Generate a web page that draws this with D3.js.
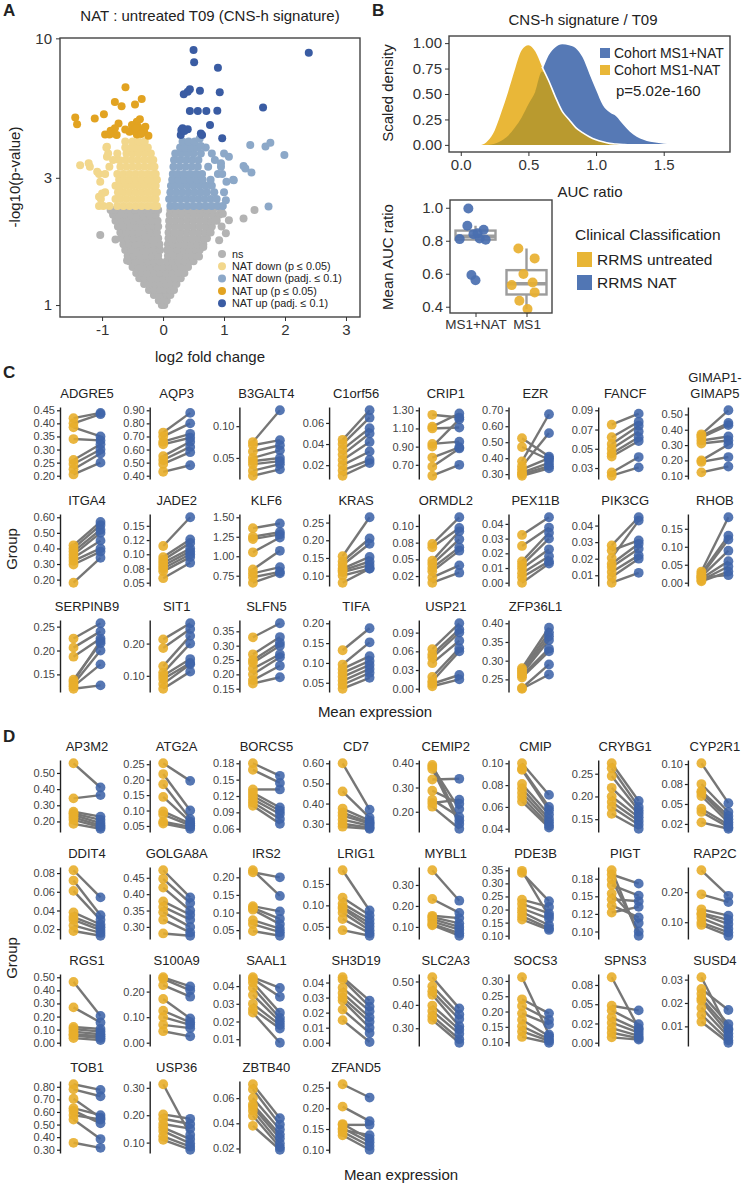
<!DOCTYPE html>
<html><head><meta charset="utf-8">
<script src="https://cdn.jsdelivr.net/npm/d3@7"></script>
<style>
body{margin:0;background:#fff}
text{font-family:"Liberation Sans",Arial,Helvetica,sans-serif}
</style></head>
<body><svg id="c" width="745" height="1187"></svg>
<script>
// ---------------- DATA ----------------
// Panel A: volcano (rows: [y, [x...]])
const nsRows = [
 [1.0,[-0.02,0.02]],
 [1.04,[-0.07,0.0,0.06]],
 [1.09,[-0.15,-0.07,0.0,0.06,0.12]],
 [1.14,[-0.23,-0.14,-0.05,0.04,0.12,0.18]],
 [1.2,[-0.31,-0.22,-0.13,-0.04,0.05,0.14,0.22]],
 [1.26,[-0.39,-0.3,-0.2,-0.1,0.0,0.1,0.2,0.29]],
 [1.32,[-0.44,-0.35,-0.25,-0.15,-0.05,0.05,0.15,0.25,0.35]],
 [1.39,[-0.5,-0.4,-0.3,-0.2,-0.1,0.0,0.1,0.2,0.3,0.41]],
 [1.46,[-0.55,-0.45,-0.35,-0.25,-0.15,-0.06,0.06,0.15,0.25,0.35,0.45,0.5]],
 [1.53,[-0.58,-0.48,-0.38,-0.28,-0.18,-0.08,0.08,0.18,0.28,0.38,0.48,0.55]],
 [1.61,[-0.62,-0.52,-0.42,-0.32,-0.22,-0.12,-0.05,0.07,0.14,0.24,0.34,0.44,0.54,0.6]],
 [1.69,[-0.65,-0.55,-0.45,-0.35,-0.25,-0.15,-0.06,0.08,0.16,0.26,0.36,0.46,0.56,0.66]],
 [1.78,[-0.68,-0.58,-0.48,-0.38,-0.28,-0.18,-0.08,0.09,0.18,0.28,0.38,0.48,0.58,0.68,0.72]],
 [1.87,[-0.7,-0.6,-0.5,-0.4,-0.3,-0.2,-0.1,0.09,0.19,0.29,0.39,0.49,0.59,0.69,0.78]],
 [1.97,[-0.74,-0.64,-0.54,-0.44,-0.34,-0.24,-0.14,-0.08,0.1,0.2,0.3,0.4,0.5,0.6,0.7,0.8]],
 [2.07,[-0.78,-0.68,-0.58,-0.48,-0.38,-0.28,-0.18,-0.09,0.1,0.2,0.3,0.4,0.5,0.6,0.7,0.8,0.88]],
 [2.18,[-0.82,-0.72,-0.62,-0.52,-0.42,-0.32,-0.22,-0.12,0.11,0.21,0.31,0.41,0.51,0.61,0.71,0.81,0.92]],
 [2.27,[-0.86,-0.76,-0.66,-0.56,-0.46,-0.36,-0.26,-0.16,-0.08,0.12,0.22,0.32,0.42,0.52,0.62,0.72,0.82,0.95]]
];
const nsExtra = [[-1.03,1.83],[-0.78,1.76],[-0.59,1.47],[0.86,2.08],[0.96,1.97],[1.03,1.86],[1.32,2.11],[1.5,2.27],[1.08,2.08],[0.92,1.75],[0.59,1.52],[-0.81,2.27],[0.98,2.2],[0.66,1.65]];
const downRows = [
 [2.35,[-1.05,-0.98,-0.88,-0.75,-0.65,-0.55,-0.45,-0.35,-0.25,-0.15,-0.1]],
 [2.5,[-1.02,-0.78,-0.7,-0.6,-0.5,-0.4,-0.3,-0.2,-0.12]],
 [2.65,[-0.95,-0.74,-0.65,-0.55,-0.45,-0.35,-0.25,-0.15,-0.1]],
 [2.8,[-0.78,-0.7,-0.6,-0.5,-0.4,-0.3,-0.2,-0.12]],
 [2.95,[-0.72,-0.64,-0.55,-0.45,-0.35,-0.25,-0.15,-0.1]],
 [3.1,[-1.05,-0.95,-0.75,-0.65,-0.55,-0.45,-0.35,-0.25,-0.15,-0.12]],
 [3.3,[-1.2,-0.88,-0.7,-0.6,-0.5,-0.4,-0.3,-0.2,-0.14]],
 [3.5,[-0.82,-0.72,-0.62,-0.52,-0.42,-0.32,-0.22,-0.16]],
 [3.7,[-0.9,-0.75,-0.6,-0.5,-0.4,-0.3,-0.2]],
 [3.9,[-0.93,-0.62,-0.52,-0.45,-0.35,-0.25]],
 [4.1,[-0.62,-0.5,-0.4,-0.3]]
];
const downExtra = [[-1.36,3.34],[-1.22,3.4],[-1.05,2.55],[-1.0,2.62],[-1.08,3.16],[-0.92,3.92],[-0.92,3.6],[-1.03,2.9]];
const upRows = [
 [2.35,[0.12,0.2,0.3,0.4,0.5,0.6,0.7,0.8,0.9,0.98]],
 [2.5,[0.1,0.18,0.28,0.38,0.48,0.58,0.68,0.78,0.88]],
 [2.65,[0.12,0.22,0.32,0.42,0.52,0.62,0.72,0.84,1.0]],
 [2.8,[0.13,0.2,0.3,0.4,0.5,0.6,0.7,0.8]],
 [2.95,[0.15,0.25,0.35,0.45,0.55,0.65,0.78,1.15]],
 [3.1,[0.16,0.24,0.34,0.44,0.54,0.64,0.9]],
 [3.3,[0.17,0.27,0.37,0.47,0.57,0.74,0.95]],
 [3.5,[0.18,0.28,0.38,0.48,0.58,0.85]],
 [3.7,[0.2,0.3,0.4,0.5,0.62,0.8,1.0]],
 [3.9,[0.28,0.36,0.46,0.56,0.7]],
 [4.1,[0.32,0.42,0.52]]
];
const upExtra = [[1.43,3.98],[1.68,3.93],[1.76,4.06],[1.99,3.65],[1.32,3.32],[1.35,3.25],[1.45,3.14],[1.16,2.94],[1.04,2.9],[1.08,3.6],[0.95,3.4],[0.97,3.1],[1.73,2.34],[1.03,2.47],[0.62,3.95],[0.6,4.2]];
const downSig = [[-0.616,6.55],[-0.79,5.77],[-0.68,5.57],[-0.46,5.65],[-0.35,5.92],[-1.44,5.05],[-1.41,4.76],[-1.12,5.01],[-0.97,5.19],[-0.38,4.97],[-0.43,4.87],[-0.51,4.73],[-0.41,4.66],[-0.73,4.79],[-0.79,4.6],[-0.86,4.5],[-0.95,4.36],[-0.81,4.4],[-0.76,4.34],[-0.55,4.46],[-0.49,4.5],[-0.35,4.53],[-0.31,4.46],[-0.24,4.31],[-0.43,4.36],[-0.29,4.66],[-0.62,4.55],[-0.88,4.36],[-0.45,4.6],[-0.36,4.38]];
const upSig = [[0.5,9.04],[0.51,8.13],[0.9,7.76],[2.39,8.83],[0.44,6.44],[0.405,6.31],[0.34,6.17],[0.605,6.36],[0.93,6.28],[0.44,5.34],[0.57,5.34],[0.71,5.34],[0.89,5.35],[1.64,5.51],[0.32,4.6],[0.3,4.53],[0.405,4.56],[0.77,4.73],[0.29,4.34],[0.35,4.49],[0.64,4.34],[0.97,4.22],[0.62,4.4]];
const volXTicks = [-1,0,1,2,3];
const volYTicks = [1,3,10];
const volLegend = ["ns","NAT down (p \u2264 0.05)","NAT down (padj. \u2264 0.1)","NAT up (p \u2264 0.05)","NAT up (padj. \u2264 0.1)"];

// Panel B: density
const densX     = [0.10,0.15,0.20,0.25,0.30,0.35,0.40,0.45,0.50,0.55,0.60,0.65,0.70,0.75,0.80,0.85,0.90,0.95,1.00,1.05,1.10,1.15,1.20,1.25,1.30,1.35,1.40,1.45,1.50,1.55,1.60];
const densNAT   = [0,0,0,0.01,0.04,0.09,0.17,0.27,0.40,0.52,0.72,0.88,0.96,0.99,0.98,0.95,0.86,0.70,0.54,0.39,0.32,0.28,0.20,0.13,0.08,0.05,0.03,0.02,0.01,0.005,0];
const densNoNAT = [0,0,0.04,0.14,0.32,0.52,0.74,0.93,0.98,0.92,0.77,0.63,0.47,0.33,0.25,0.17,0.12,0.08,0.05,0.03,0.015,0.008,0.003,0,0,0,0,0,0,0,0];
const densXTicks = [0,0.5,1.0,1.5];
const densYTicks = [0,0.25,0.5,0.75,1.0];
// Panel B: box
const boxGroups = ["MS1+NAT","MS1"];
const natAUC = [0.996,0.891,0.867,0.84,0.81,0.806,0.814,0.592,0.56,0.845];
const natJit = [-0.14,-0.16,0.16,-0.04,-0.31,0.2,0.08,-0.08,0,0.04];
const ms1AUC = [0.753,0.693,0.598,0.531,0.547,0.487,0.436,0.386];
const ms1Jit = [-0.16,0.16,-0.06,-0.29,0.12,0.16,-0.14,0.02];
const boxYTicks = [0.4,0.6,0.8,1.0];

// Panel C
const cGenes = ['ADGRE5','AQP3','B3GALT4','C1orf56','CRIP1','EZR','FANCF','GIMAP1-GIMAP5','ITGA4','JADE2','KLF6','KRAS','ORMDL2','PEX11B','PIK3CG','RHOB','SERPINB9','SIT1','SLFN5','TIFA','USP21','ZFP36L1'];
const cUntreated = [
[0.42,0.40,0.385,0.34,0.26,0.245,0.225,0.205],
[0.73,0.70,0.66,0.64,0.55,0.52,0.49,0.43],
[0.075,0.07,0.06,0.05,0.045,0.04,0.03,0.022],
[0.044,0.04,0.035,0.03,0.025,0.02,0.015,0.01],
[1.25,1.12,1.10,0.93,0.90,0.78,0.68,0.58],
[0.525,0.47,0.38,0.35,0.33,0.31,0.30,0.29],
[0.075,0.062,0.055,0.05,0.045,0.042,0.0254,0.022],
[0.37,0.36,0.35,0.33,0.31,0.20,0.19,0.122],
[0.42,0.40,0.38,0.36,0.34,0.32,0.297,0.18],
[0.1145,0.095,0.09,0.085,0.08,0.075,0.07,0.058],
[1.36,1.25,1.22,1.05,0.83,0.78,0.73,0.66],
[0.155,0.14,0.13,0.12,0.115,0.11,0.10,0.08],
[0.073,0.068,0.048,0.043,0.037,0.032,0.023,0.015],
[0.0325,0.025,0.0145,0.012,0.0097,0.0065,0.0037,0.0],
[0.028,0.025,0.0205,0.017,0.015,0.012,0.009,0.0055],
[0.031,0.026,0.021,0.017,0.012,0.007,0.004,0.015],
[0.225,0.206,0.187,0.139,0.135,0.13,0.125,0.12],
[0.213,0.186,0.13,0.11,0.10,0.09,0.075,0.06],
[0.329,0.27,0.25,0.24,0.22,0.20,0.18,0.168],
[0.132,0.096,0.085,0.075,0.065,0.055,0.045,0.035],
[0.0635,0.055,0.05,0.041,0.019,0.012,0.008,0.004],
[0.28,0.275,0.27,0.265,0.26,0.255,0.227,0.225]];
const cNAT = [
[0.44,0.435,0.35,0.335,0.32,0.30,0.285,0.25],
[0.88,0.80,0.72,0.69,0.66,0.62,0.58,0.48],
[0.125,0.078,0.07,0.062,0.05,0.045,0.04,0.032],
[0.072,0.065,0.055,0.05,0.042,0.033,0.025,0.022],
[1.22,1.265,1.11,0.955,1.20,0.893,0.88,0.70],
[0.41,0.39,0.675,0.557,0.40,0.37,0.35,0.336],
[0.0865,0.078,0.074,0.068,0.062,0.058,0.0414,0.0307],
[0.527,0.444,0.43,0.356,0.33,0.304,0.222,0.16],
[0.57,0.55,0.52,0.50,0.45,0.40,0.38,0.34],
[0.165,0.126,0.12,0.11,0.105,0.10,0.095,0.085],
[1.42,1.31,1.28,1.24,1.07,0.86,0.80,0.78],
[0.265,0.205,0.19,0.153,0.14,0.13,0.12,0.12],
[0.113,0.097,0.092,0.08,0.068,0.063,0.041,0.03],
[0.0445,0.0375,0.034,0.030,0.0227,0.018,0.0145,0.013],
[0.045,0.031,0.043,0.029,0.026,0.022,0.020,0.0115],
[0.182,0.131,0.12,0.089,0.06,0.045,0.031,0.021],
[0.257,0.24,0.225,0.215,0.22,0.20,0.171,0.127],
[0.263,0.245,0.224,0.20,0.152,0.14,0.136,0.113],
[0.378,0.33,0.31,0.30,0.27,0.26,0.23,0.19],
[0.1875,0.152,0.117,0.105,0.095,0.085,0.075,0.0625],
[0.105,0.095,0.09,0.077,0.065,0.06,0.022,0.015],
[0.388,0.375,0.365,0.355,0.332,0.325,0.29,0.263]];
const cTicks = [
[0.20,0.25,0.30,0.35,0.40,0.45],[0.4,0.5,0.6,0.7,0.8,0.9],[0.05,0.10],[0.02,0.04,0.06],
[0.7,0.9,1.1,1.3],[0.3,0.4,0.5,0.6,0.7],[0.03,0.05,0.07,0.09],[0.1,0.2,0.3,0.4,0.5],
[0.2,0.3,0.4,0.5,0.6],[0.05,0.075,0.1,0.125,0.15],[0.75,1.0,1.25,1.5],[0.1,0.15,0.2,0.25],
[0.025,0.05,0.075,0.1],[0,0.01,0.02,0.03,0.04],[0.01,0.02,0.03,0.04],[0,0.05,0.1,0.15],
[0.15,0.2,0.25],[0.1,0.2],[0.15,0.2,0.25,0.3,0.35],[0.05,0.1,0.15,0.2],[0,0.03,0.06,0.09],[0.25,0.3,0.35,0.4]];

// Panel D
const dGenes = ['AP3M2','ATG2A','BORCS5','CD7','CEMIP2','CMIP','CRYBG1','CYP2R1','DDIT4','GOLGA8A','IRS2','LRIG1','MYBL1','PDE3B','PIGT','RAP2C','RGS1','S100A9','SAAL1','SH3D19','SLC2A3','SOCS3','SPNS3','SUSD4','TOB1','USP36','ZBTB40','ZFAND5'];
const dUntreated = [
[0.56,0.343,0.26,0.25,0.24,0.225,0.21,0.185],
[0.253,0.218,0.185,0.144,0.097,0.087,0.064,0.058],
[0.18,0.168,0.132,0.126,0.12,0.114,0.108,0.102],
[0.60,0.46,0.375,0.355,0.34,0.32,0.30,0.285],
[0.393,0.385,0.376,0.333,0.287,0.25,0.236,0.221],
[0.10,0.095,0.094,0.081,0.077,0.073,0.069,0.065],
[0.273,0.262,0.245,0.219,0.20,0.188,0.177,0.162],
[0.101,0.075,0.066,0.064,0.06,0.044,0.04,0.027],
[0.083,0.072,0.061,0.038,0.033,0.030,0.024,0.018],
[0.473,0.447,0.42,0.378,0.361,0.345,0.322,0.28],
[0.22,0.214,0.118,0.113,0.108,0.078,0.067,0.047],
[0.182,0.118,0.104,0.096,0.092,0.083,0.068,0.042],
[0.37,0.233,0.153,0.147,0.137,0.125,0.113,0.108],
[0.348,0.34,0.238,0.222,0.204,0.19,0.175,0.162],
[0.187,0.181,0.174,0.166,0.154,0.146,0.137,0.127],
[0.273,0.193,0.143,0.13,0.126,0.114,0.099,0.091],
[0.465,0.27,0.12,0.105,0.085,0.065,0.055,0.035],
[0.256,0.25,0.225,0.171,0.125,0.10,0.07,0.045],
[0.045,0.044,0.042,0.039,0.035,0.03,0.027,0.025],
[0.0435,0.042,0.0365,0.033,0.030,0.028,0.022,0.015],
[0.518,0.48,0.458,0.443,0.397,0.374,0.352,0.336],
[0.312,0.24,0.218,0.194,0.173,0.152,0.135,0.117],
[0.085,0.048,0.042,0.033,0.026,0.019,0.013,0.007],
[0.031,0.026,0.024,0.022,0.021,0.018,0.015,0.012],
[0.82,0.78,0.705,0.63,0.61,0.575,0.54,0.355],
[0.313,0.203,0.187,0.168,0.155,0.142,0.123,0.11],
[0.071,0.067,0.06,0.055,0.053,0.05,0.046,0.038],
[0.258,0.204,0.162,0.16,0.152,0.148,0.143,0.135]];
const dNAT = [
[0.41,0.363,0.23,0.21,0.19,0.175,0.165,0.155],
[0.196,0.10,0.073,0.064,0.058,0.052,0.047,0.041],
[0.157,0.144,0.132,0.099,0.093,0.087,0.078,0.069],
[0.37,0.33,0.315,0.305,0.30,0.29,0.28,0.275],
[0.164,0.211,0.15,0.336,0.233,0.179,0.25,0.13],
[0.071,0.06,0.057,0.053,0.049,0.046,0.043,0.041],
[0.19,0.177,0.169,0.162,0.154,0.146,0.138,0.129],
[0.051,0.04,0.035,0.031,0.027,0.024,0.021,0.019],
[0.054,0.035,0.03,0.025,0.022,0.019,0.016,0.013],
[0.39,0.373,0.35,0.337,0.322,0.30,0.283,0.273],
[0.147,0.20,0.103,0.082,0.067,0.054,0.044,0.034],
[0.088,0.077,0.067,0.058,0.05,0.042,0.035,0.029],
[0.225,0.167,0.142,0.117,0.10,0.087,0.07,0.058],
[0.175,0.232,0.21,0.185,0.165,0.14,0.128,0.122],
[0.094,0.168,0.10,0.151,0.112,0.143,0.12,0.135],
[0.188,0.167,0.122,0.108,0.094,0.078,0.066,0.055],
[0.205,0.155,0.105,0.085,0.065,0.05,0.035,0.02],
[0.22,0.205,0.18,0.095,0.08,0.07,0.057,0.025],
[0.039,0.034,0.025,0.022,0.02,0.018,0.016,0.008],
[0.028,0.024,0.021,0.017,0.014,0.01,0.0065,0.0005],
[0.385,0.359,0.339,0.309,0.294,0.276,0.253,0.238],
[0.125,0.194,0.173,0.158,0.119,0.11,0.104,0.098],
[0.019,0.042,0.024,0.017,0.013,0.009,0.006,0.004],
[0.0085,0.017,0.011,0.009,0.007,0.0056,0.004,0.003],
[0.775,0.725,0.555,0.575,0.51,0.54,0.385,0.315],
[0.129,0.187,0.168,0.151,0.113,0.097,0.085,0.074],
[0.044,0.039,0.035,0.031,0.028,0.024,0.021,0.019],
[0.226,0.169,0.126,0.16,0.118,0.135,0.109,0.10]];
const dTicks = [
[0.2,0.3,0.4,0.5],[0.05,0.1,0.15,0.2,0.25],[0.06,0.09,0.12,0.15,0.18],[0.3,0.4,0.5,0.6],
[0.2,0.3,0.4],[0.04,0.06,0.08,0.1],[0.15,0.2,0.25],[0.025,0.05,0.075,0.1],
[0.02,0.04,0.06,0.08],[0.3,0.35,0.4,0.45],[0.05,0.1,0.15,0.2],[0.05,0.1,0.15],
[0.1,0.2,0.3],[0.1,0.15,0.2,0.25,0.3,0.35],[0.1,0.125,0.15,0.175],[0.1,0.2],
[0,0.1,0.2,0.3,0.4,0.5],[0,0.1,0.2],[0.01,0.02,0.03,0.04],[0,0.01,0.02,0.03,0.04],
[0.3,0.4,0.5],[0.1,0.15,0.2,0.25,0.3],[0,0.025,0.05,0.075],[0.01,0.02,0.03],
[0.3,0.4,0.5,0.6,0.7,0.8],[0.1,0.2,0.3],[0.02,0.04,0.06],[0.1,0.15,0.2,0.25]];

// ---------------- DRAWING ----------------
const svg = d3.select('#c');
const YEL = '#e8ae2b', BLU = '#3f64a9';
const DARK = '#222';

function styleAxis(g, size, col){
  g.selectAll('text').style('font-size', size+'px').attr('fill', col || '#333');
  g.selectAll('line').attr('stroke', '#333');
  g.selectAll('path.domain').attr('stroke', '#333');
}
function label(t, x, y, size, opts={}){
  const e = svg.append('text').attr('x', x).attr('y', y).text(t)
    .style('font-size', size+'px').attr('fill', opts.fill || DARK)
    .attr('text-anchor', opts.anchor || 'start');
  if (opts.bold) e.style('font-weight', 'bold');
  if (opts.rotate) e.attr('transform', `rotate(-90,${x},${y})`);
  return e;
}
label('A', 3, 16, 17, {bold:true});
label('B', 372, 16, 17, {bold:true});
label('C', 3, 378, 17, {bold:true});
label('D', 3, 742, 17, {bold:true});

// ---- Panel A ----
const vx = d3.scaleLinear().domain([-1.69, 3.23]).range([60, 360]);
const vy = d3.scaleLog().domain([0.902, 10.03]).range([317, 38]);
const flat = rows => rows.flatMap(([y, xs]) => xs.map(x => [x, y]));
const volGroups = [
  {pts: flat(nsRows).concat(nsExtra), col: '#b3b3b3'},
  {pts: flat(downRows).concat(downExtra), col: '#f2d78c'},
  {pts: flat(upRows).concat(upExtra), col: '#8ca8c8'},
  {pts: downSig, col: '#e2a321'},
  {pts: upSig, col: '#3a5ca3'}
];
const gA = svg.append('g');
volGroups.forEach(gr => {
  gA.append('g').selectAll('circle').data(gr.pts).join('circle')
    .attr('cx', d => vx(d[0])).attr('cy', d => vy(d[1])).attr('r', 4).attr('fill', gr.col);
});
gA.append('rect').attr('x', 60).attr('y', 38).attr('width', 300).attr('height', 279)
  .attr('fill', 'none').attr('stroke', '#444').attr('stroke-width', 1.4);
const axAx = gA.append('g').attr('transform', 'translate(0,317)')
  .call(d3.axisBottom(vx).tickValues(volXTicks).tickSize(4).tickPadding(3).tickFormat(d => String(d)));
axAx.select('.domain').remove(); styleAxis(axAx, 15, '#333');
const axAy = gA.append('g').attr('transform', 'translate(60,0)')
  .call(d3.axisLeft(vy).tickValues(volYTicks).tickSize(4).tickPadding(4).tickFormat(d => String(d)));
axAy.select('.domain').remove(); styleAxis(axAy, 15, '#333');
label('NAT : untreated T09 (CNS-h signature)', 210, 21, 15, {anchor:'middle'});
label('log2 fold change', 210, 362, 15, {anchor:'middle'});
label('-log10(p-value)', 20, 177, 15, {anchor:'middle', rotate:true});
volLegend.forEach((t, i) => {
  const y = 254 + i*12.3;
  gA.append('circle').attr('cx', 222).attr('cy', y).attr('r', 4).attr('fill', volGroups[i].col);
  gA.append('text').attr('x', 232).attr('y', y + 3.8).text(t).style('font-size', '10.8px').attr('fill', DARK);
});

// ---- Panel B density ----
const dx = d3.scaleLinear().domain([-0.087, 1.99]).range([449, 730]);
const dy = d3.scaleLinear().domain([-0.07, 1.07]).range([152, 36]);
const nat = densX.map((x, i) => [x, densNAT[i]]);
const non = densX.map((x, i) => [x, densNoNAT[i]]);
const both = densX.map((x, i) => [x, Math.min(densNAT[i], densNoNAT[i])]);
const area = d3.area().x(d => dx(d[0])).y0(dy(0)).y1(d => dy(d[1])).curve(d3.curveMonotoneX);
const lineG = d3.line().x(d => dx(d[0])).y(d => dy(d[1])).curve(d3.curveMonotoneX);
const gB = svg.append('g');
gB.append('path').attr('d', area(nat)).attr('fill', '#5679b5');
gB.append('path').attr('d', area(non)).attr('fill', '#e9b738');
gB.append('path').attr('d', area(both)).attr('fill', '#b99a2f');
gB.append('path').attr('d', lineG(non.filter(d => d[0] >= 0.6))).attr('fill', 'none').attr('stroke', '#fff').attr('stroke-width', 1.6);
gB.append('rect').attr('x', 449).attr('y', 36).attr('width', 281).attr('height', 116)
  .attr('fill', 'none').attr('stroke', '#444').attr('stroke-width', 1.4);
const bxA = gB.append('g').attr('transform', 'translate(0,152)')
  .call(d3.axisBottom(dx).tickValues(densXTicks).tickSize(4).tickPadding(3).tickFormat(d3.format('.1f')));
bxA.select('.domain').remove(); styleAxis(bxA, 15, '#333');
const byA = gB.append('g').attr('transform', 'translate(449,0)')
  .call(d3.axisLeft(dy).tickValues(densYTicks).tickSize(4).tickPadding(3).tickFormat(d3.format('.2f')));
byA.select('.domain').remove(); styleAxis(byA, 15, '#333');
label('CNS-h signature / T09', 583, 25, 15, {anchor:'middle'});
label('AUC ratio', 590, 197, 15, {anchor:'middle'});
label('Scaled density', 393, 93, 15, {anchor:'middle', rotate:true});
gB.append('rect').attr('x', 600).attr('y', 48).attr('width', 10).attr('height', 10).attr('fill', '#5679b5');
gB.append('rect').attr('x', 600).attr('y', 65).attr('width', 10).attr('height', 10).attr('fill', '#e9b738');
label('Cohort MS1+NAT', 614, 58, 14);
label('Cohort MS1-NAT', 614, 75, 14);
label('p=5.02e-160', 616, 96, 15);

// ---- Panel B box ----
const bxs = d3.scalePoint().domain(boxGroups).range([450, 552]).padding(0.5);
const bys = d3.scaleLinear().domain([0.362, 1.047]).range([313, 200]);
const step = bxs.step();
const gBox = svg.append('g');
function boxStats(v){
  const s = v.slice().sort(d3.ascending);
  const q1 = d3.quantile(s, 0.25), med = d3.quantile(s, 0.5), q3 = d3.quantile(s, 0.75);
  const iqr = q3 - q1;
  const lo = d3.min(s.filter(d => d >= q1 - 1.5*iqr)), hi = d3.max(s.filter(d => d <= q3 + 1.5*iqr));
  return {q1, med, q3, lo, hi};
}
[[boxGroups[0], natAUC], [boxGroups[1], ms1AUC]].forEach(([g, v]) => {
  const st = boxStats(v), cx = bxs(g), w = 40;
  const gg = gBox.append('g').attr('stroke', '#9c9c9c').attr('stroke-width', 2.4).attr('fill', 'none');
  gg.append('line').attr('x1', cx).attr('x2', cx).attr('y1', bys(st.q3)).attr('y2', bys(st.hi));
  gg.append('line').attr('x1', cx).attr('x2', cx).attr('y1', bys(st.q1)).attr('y2', bys(st.lo));
  gg.append('rect').attr('x', cx - w/2).attr('width', w).attr('y', bys(st.q3)).attr('height', bys(st.q1) - bys(st.q3));
  gg.append('line').attr('x1', cx - w/2).attr('x2', cx + w/2).attr('y1', bys(st.med)).attr('y2', bys(st.med)).attr('stroke-width', 3.4);
});
gBox.append('g').selectAll('circle').data(natAUC).join('circle')
  .attr('cx', (d, i) => bxs(boxGroups[0]) + natJit[i]*step).attr('cy', d => bys(d)).attr('r', 5)
  .attr('fill', '#4a6fb0').attr('fill-opacity', 0.92);
gBox.append('g').selectAll('circle').data(ms1AUC).join('circle')
  .attr('cx', (d, i) => bxs(boxGroups[1]) + ms1Jit[i]*step).attr('cy', d => bys(d)).attr('r', 5)
  .attr('fill', '#e8b030').attr('fill-opacity', 0.92);
gBox.append('rect').attr('x', 450).attr('y', 200).attr('width', 102).attr('height', 113)
  .attr('fill', 'none').attr('stroke', '#444').attr('stroke-width', 1.4);
const boxXA = gBox.append('g').attr('transform', 'translate(0,313)')
  .call(d3.axisBottom(bxs).tickSize(4).tickPadding(2));
boxXA.select('.domain').remove(); styleAxis(boxXA, 13.5, '#333');
const boxYA = gBox.append('g').attr('transform', 'translate(450,0)')
  .call(d3.axisLeft(bys).tickValues(boxYTicks).tickSize(4).tickPadding(3).tickFormat(d3.format('.1f')));
boxYA.select('.domain').remove(); styleAxis(boxYA, 15, '#333');
label('Mean AUC ratio', 393, 257, 15, {anchor:'middle', rotate:true});
label('Clinical Classification', 575, 240, 15.5);
gBox.append('rect').attr('x', 577).attr('y', 252).attr('width', 15).attr('height', 15).attr('fill', '#e8b535');
gBox.append('rect').attr('x', 577).attr('y', 275).attr('width', 15).attr('height', 15).attr('fill', '#5176b4');
label('RRMS untreated', 597, 265, 15.5);
label('RRMS NAT', 597, 288, 15.5);

// ---- Panels C & D: paired small multiples ----
function fmt2(v){
  const s = v * 100;
  let n;
  if (Math.abs(s - Math.floor(s) - 0.5) < 1e-6) { const fl = Math.floor(s); n = (fl % 2 === 0) ? fl : fl + 1; }
  else n = Math.round(s);
  return (n / 100).toFixed(2);
}
function drawGenes(names, yel, blu, ticks, rowTops){
  const H = 72;
  names.forEach((name, i) => {
    const col = i % 8, row = Math.floor(i / 8);
    const ax = 60 + 89.7 * col, top = rowTops[row];
    const all = yel[i].concat(blu[i], ticks[i]);
    const [lo, hi] = d3.extent(all), pad = (hi - lo) * 0.05;
    const y = d3.scaleLinear().domain([lo - pad, hi + pad]).range([top + H, top]);
    const x = d3.scalePoint().domain(['untreated', 'NAT']).range([ax, ax + 54]).padding(0.5);
    const g = svg.append('g');
    g.append('g').selectAll('line').data(yel[i]).join('line')
      .attr('x1', x('untreated')).attr('x2', x('NAT'))
      .attr('y1', d => y(d)).attr('y2', (d, j) => y(blu[i][j]))
      .attr('stroke', '#767676').attr('stroke-width', 2.4);
    g.append('g').selectAll('circle').data(yel[i]).join('circle')
      .attr('cx', x('untreated')).attr('cy', d => y(d)).attr('r', 4.9)
      .attr('fill', YEL).attr('fill-opacity', 0.9);
    g.append('g').selectAll('circle').data(blu[i]).join('circle')
      .attr('cx', x('NAT')).attr('cy', d => y(d)).attr('r', 4.9)
      .attr('fill', BLU).attr('fill-opacity', 0.88);
    const a = g.append('g').attr('transform', `translate(${ax},0)`)
      .call(d3.axisLeft(y).tickValues(ticks[i]).tickFormat(fmt2).tickSize(3).tickPadding(2).tickSizeOuter(0));
    a.select('.domain').attr('stroke', '#222').attr('stroke-width', 1.4);
    a.selectAll('.tick line').attr('stroke', '#222').attr('stroke-width', 1.2);
    a.selectAll('text').style('font-size', '11px').attr('fill', '#444');
    const cx = ax + 27;
    const lines = name.length > 9 && name.includes('-') ? [name.slice(0, name.indexOf('-') + 1), name.slice(name.indexOf('-') + 1)] : [name];
    lines.forEach((t, k) => {
      g.append('text').attr('x', cx).attr('y', top - 9 - (lines.length - 1 - k) * 16)
        .attr('text-anchor', 'middle').text(t).style('font-size', '13px').attr('fill', DARK);
    });
  });
}
drawGenes(cGenes, cUntreated, cNAT, cTicks, [407, 514, 620]);
drawGenes(dGenes, dUntreated, dNAT, dTicks, [760, 867, 974, 1081]);
label('Group', 17, 549, 15, {anchor:'middle', rotate:true});
label('Mean expression', 375, 717, 15, {anchor:'middle'});
label('Group', 17, 958, 15, {anchor:'middle', rotate:true});
label('Mean expression', 401, 1180, 15, {anchor:'middle'});
</script></body></html>
